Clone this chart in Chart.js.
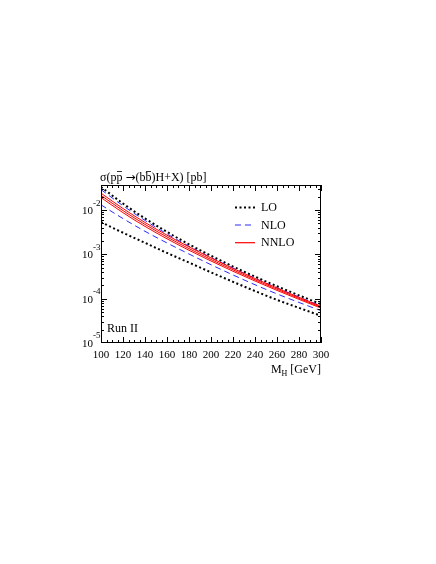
<!DOCTYPE html>
<html>
<head>
<meta charset="utf-8">
<script src="https://cdn.jsdelivr.net/npm/chart.js@4.4.1/dist/chart.umd.min.js"></script>
<style>
  html, body { margin: 0; padding: 0; background: #fff; }
  canvas { display: block; }
</style>
</head>
<body>
<canvas id="myChart" width="436" height="564"></canvas>
<script>
// Higgs mass in GeV
const masses = [100, 120, 140, 160, 180, 200, 220, 240, 260, 280, 300];

// cross sections in pb (upper / lower edges of the scale bands)
const loHigh = [0.0334, 0.01413, 0.0065, 0.00323, 0.001687, 0.000935, 0.000533, 0.000315, 0.000191, 0.000119, 0.0000755];
const loLow = [0.00537, 0.00309, 0.00183, 0.00108, 0.000656, 0.000394, 0.000241, 0.000149, 0.0000942, 0.0000621, 0.0000411];
const nloHigh = [0.0291, 0.01259, 0.00586, 0.00291, 0.001538, 0.000853, 0.000492, 0.00029, 0.0001766, 0.0001091, 0.0000689];
const nloLow = [0.01318, 0.00646, 0.00333, 0.001816, 0.001023, 0.000586, 0.000344, 0.000207, 0.0001285, 0.0000824, 0.0000537];
const nnloHigh = [0.0242, 0.01089, 0.00527, 0.00272, 0.00148, 0.000834, 0.000483, 0.000286, 0.000174, 0.0001074, 0.0000673];
const nnloMid = [0.0216, 0.00977, 0.00476, 0.00248, 0.001355, 0.000769, 0.000449, 0.000268, 0.000164, 0.000102, 0.0000643];
const nnloLow = [0.01923, 0.00877, 0.0043, 0.002254, 0.001242, 0.00071, 0.000417, 0.000251, 0.000154, 0.0000966, 0.0000614];

const xTicks = [100, 120, 140, 160, 180, 200, 220, 240, 260, 280, 300];
const yDecades = [-5, -4, -3, -2];

const serif = '"Liberation Serif", "DejaVu Serif", serif';

function pts(arr) {
    return masses.map((m, i) => ({ x: m, y: arr[i] }));
}

function line(data, color, width, dash) {
    return {
        data: pts(data),
        borderColor: color,
        borderWidth: width,
        borderDash: dash,
        pointRadius: 0,
        fill: false,
        cubicInterpolationMode: 'monotone'
    };
}

// frame, inward ticks, y labels, title, legend and text
const decor = {
    id: 'decor',
    afterDraw(chart) {
        const c = chart.ctx;
        const a = chart.chartArea;
        const xs = chart.scales.x;
        const ys = chart.scales.y;
        c.save();
        c.strokeStyle = '#000';
        c.lineWidth = 1;
        c.strokeRect(a.left + 0.5, a.top + 0.5, a.right - a.left - 1, a.bottom - a.top - 1);

        c.beginPath();
        xs.ticks.forEach(t => {
            const px = Math.round(xs.getPixelForValue(t.value)) + 0.5;
            const len = xTicks.includes(t.value) ? 6 : 3;
            c.moveTo(px, a.bottom); c.lineTo(px, a.bottom - len);
            c.moveTo(px, a.top); c.lineTo(px, a.top + len);
        });
        ys.ticks.forEach(t => {
            const py = Math.round(ys.getPixelForValue(t.value)) + 0.5;
            if (py < a.top || py > a.bottom) return;
            const len = t.major ? 6 : 3;
            c.moveTo(a.left, py); c.lineTo(a.left + len, py);
            c.moveTo(a.right, py); c.lineTo(a.right - len, py);
        });
        c.stroke();

        // y labels 10^n
        c.fillStyle = '#000';
        c.textBaseline = 'middle';
        yDecades.forEach(d => {
            const py = ys.getPixelForValue(Math.pow(10, d));
            c.font = '11px ' + serif;
            c.textAlign = 'right';
            c.fillText('10', 93, py + 1);
            c.font = '9px ' + serif;
            c.textAlign = 'left';
            c.fillText(String(d), 93, py - 7);
        });

        // title with overlines
        c.textAlign = 'left';
        c.textBaseline = 'alphabetic';
        const titleFont = '12px ' + serif;
        const arrowFont = '12px "DejaVu Sans", sans-serif';
        const parts = [
            ['\u03c3(p', false, titleFont],
            ['p', true, titleFont],
            [' ', false, titleFont],
            ['\u2192', false, arrowFont],
            ['(b', false, titleFont],
            ['b', true, titleFont],
            [')H+X) [pb]', false, titleFont]
        ];
        let tx = 100;
        const ty = 181;
        parts.forEach(p => {
            c.font = p[2];
            const w = c.measureText(p[0]).width;
            c.fillText(p[0], tx, ty);
            if (p[1]) {
                c.beginPath();
                c.lineWidth = 0.8;
                c.moveTo(tx + 0.5, ty - 9.5);
                c.lineTo(tx + w - 0.5, ty - 9.5);
                c.stroke();
            }
            tx += w;
        });

        // x axis title M_H [GeV]
        const rest = ' [GeV]';
        c.font = '12px ' + serif;
        const wRest = c.measureText(rest).width;
        const wM = c.measureText('M').width;
        c.font = '8px ' + serif;
        const wH = c.measureText('H').width;
        const x0 = 321 - wRest - wH - wM;
        c.font = '12px ' + serif;
        c.fillText('M', x0, 373);
        c.font = '8px ' + serif;
        c.fillText('H', x0 + wM, 376);
        c.font = '12px ' + serif;
        c.fillText(rest, x0 + wM + wH, 373);

        // Run II
        c.fillText('Run II', 107, 332);

        // legend
        const leg = [
            ['LO', '#000', 2, [2, 2.5], 207.5],
            ['NLO', '#2b2bff', 1, [6, 4], 225],
            ['NNLO', '#ff0000', 1.2, [], 242.7]
        ];
        leg.forEach(l => {
            c.beginPath();
            c.strokeStyle = l[1];
            c.lineWidth = l[2];
            c.setLineDash(l[3]);
            c.moveTo(235, l[4]);
            c.lineTo(255, l[4]);
            c.stroke();
            c.setLineDash([]);
            c.fillStyle = '#000';
            c.textBaseline = 'middle';
            c.fillText(l[0], 261, l[4] + 0.5);
        });
        c.restore();
    }
};

const ctx = document.getElementById('myChart');
new Chart(ctx, {
    type: 'line',
    data: {
        datasets: [
            line(nnloHigh, '#ff0000', 1, []),
            line(nnloMid, '#ff0000', 1, []),
            line(nnloLow, '#ff0000', 1, []),
            line(nloHigh, '#2b2bff', 1, [6, 4]),
            line(nloLow, '#2b2bff', 1, [6, 4]),
            line(loHigh, '#000', 2, [2, 2.5]),
            line(loLow, '#000', 2, [2, 2.5])
        ]
    },
    options: {
        responsive: false,
        animation: false,
        devicePixelRatio: 1,
        layout: {
            padding: { left: 0, top: 185, right: 115, bottom: 201 }
        },
        plugins: {
            legend: { display: false },
            tooltip: { enabled: false }
        },
        scales: {
            x: {
                type: 'linear',
                min: 100,
                max: 300,
                afterFit: s => { s.height = 20; },
                grid: { display: false, drawTicks: false },
                border: { display: false },
                ticks: {
                    stepSize: 5,
                    autoSkip: false,
                    maxRotation: 0,
                    padding: 6,
                    color: '#000',
                    font: { family: serif, size: 11 },
                    callback: v => (xTicks.includes(v) ? String(v) : '')
                }
            },
            y: {
                type: 'logarithmic',
                min: 1e-5,
                max: 0.037,
                afterFit: s => { s.width = 101; },
                afterBuildTicks: s => {
                    const list = [];
                    for (let d = -5; d <= -2; d++) {
                        for (let k = 1; k <= 9; k++) {
                            list.push({ value: k * Math.pow(10, d), major: k === 1 });
                        }
                    }
                    s.ticks = list;
                },
                grid: { display: false, drawTicks: false },
                border: { display: false },
                ticks: { display: false }
            }
        }
    },
    plugins: [decor]
});
</script>
</body>
</html>
